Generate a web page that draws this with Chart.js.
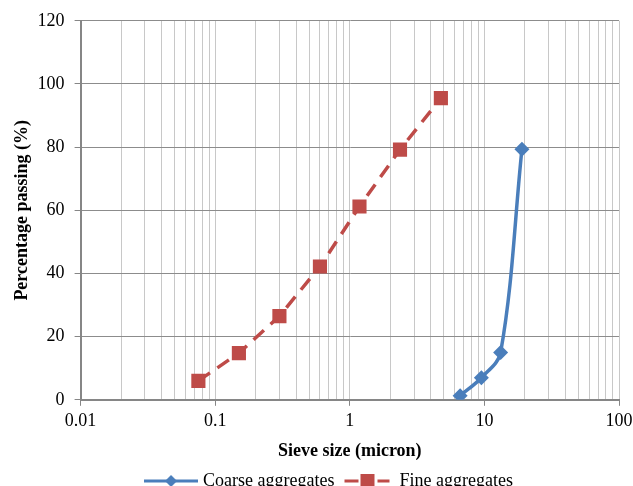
<!DOCTYPE html>
<html>
<head>
<meta charset="utf-8">
<script src="https://cdn.jsdelivr.net/npm/chart.js@4.4.1/dist/chart.umd.min.js"></script>
<style>
  html, body { margin: 0; padding: 0; background: #fff; overflow: hidden; }
  #wrap { width: 633px; height: 500px; position: relative; }
</style>
</head>
<body>
<div id="wrap"><canvas id="chart"></canvas></div>
<script>
// Sieve sizes and percentages
const coarseSize = [6.6, 9.5, 13.2, 19];
const coarsePassing = [1.3, 7, 15, 79.3];
const fineSize = [0.075, 0.15, 0.3, 0.6, 1.18, 2.36, 4.75];
const finePassing = [6, 14.8, 26.5, 42.2, 61.2, 79.2, 95.5];

// Axis ticks
const xMajorTicks = [0.01, 0.1, 1, 10, 100];
const xTickLabels = ['0.01', '0.1', '1', '10', '100'];
const yTicks = [0, 20, 40, 60, 80, 100, 120];

const seriesNames = ['Coarse aggregates', 'Fine aggregates'];
const blue = '#4A7EBB';
const red = '#BE4B48';
const serif = '"Liberation Serif", "Times New Roman", serif';

function toPoints(xs, ys) {
  return xs.map((x, i) => ({ x: x, y: ys[i] }));
}

// legend sample: short line with the marker in the middle
function legendSample(color, marker, dashed) {
  const c = document.createElement('canvas');
  c.width = 54;
  c.height = 16;
  const g = c.getContext('2d');
  g.strokeStyle = color;
  g.lineWidth = 3;
  g.beginPath();
  if (dashed) {
    g.moveTo(4, 8); g.lineTo(18, 8);
    g.moveTo(37, 8); g.lineTo(49, 8);
  } else {
    g.moveTo(0, 8); g.lineTo(54, 8);
  }
  g.stroke();
  g.fillStyle = color;
  g.beginPath();
  if (marker === 'diamond') {
    g.moveTo(27, 2); g.lineTo(33, 8); g.lineTo(27, 14); g.lineTo(21, 8);
  } else {
    g.rect(20, 1, 14, 14);
  }
  g.closePath();
  g.fill();
  return c;
}

// minor grid lines: 1..9 in every decade
const xGridValues = [];
xMajorTicks.forEach((m, i) => {
  if (i === xMajorTicks.length - 1) { xGridValues.push(m); return; }
  for (let k = 1; k <= 9; k++) xGridValues.push(+(m * k).toPrecision(3));
});

function isMajor(v) {
  return xMajorTicks.findIndex(m => Math.abs(m - v) / m < 1e-6);
}

// the legend sits a little right of the page centre in the original
const legendShift = {
  id: 'legendShift',
  afterLayout(chart) {
    chart.legend.left += 11;
    chart.legend.right += 11;
  }
};

const ctx = document.getElementById('chart').getContext('2d');
new Chart(ctx, {
  type: 'scatter',
  data: {
    datasets: [{
      label: seriesNames[0],
      data: toPoints(coarseSize, coarsePassing),
      showLine: true,
      borderColor: blue,
      backgroundColor: blue,
      borderWidth: 3.5,
      tension: 0.35,
      pointStyle: 'rectRot',
      pointRadius: 7.5,
      pointHoverRadius: 7.5,
      pointBorderWidth: 0
    }, {
      label: seriesNames[1],
      data: toPoints(fineSize, finePassing),
      showLine: true,
      borderColor: red,
      backgroundColor: red,
      borderWidth: 3.5,
      borderDash: [14, 9],
      tension: 0,
      pointStyle: 'rect',
      pointRadius: 10,
      pointHoverRadius: 10,
      pointBorderWidth: 0
    }]
  },
  plugins: [legendShift],
  options: {
    responsive: true,
    maintainAspectRatio: false,
    animation: false,
    layout: { padding: { top: 7, right: 0, left: 6, bottom: 0 } },
    plugins: {
      tooltip: { enabled: false },
      legend: {
        position: 'bottom',
        labels: {
          usePointStyle: true,
          pointStyleWidth: 46,
          padding: 10,
          color: '#000',
          font: { family: serif, size: 18 },
          generateLabels: function(chart) {
            return chart.data.datasets.map((ds, i) => ({
              text: ds.label,
              datasetIndex: i,
              pointStyle: legendSample(ds.borderColor, i === 0 ? 'diamond' : 'square', i === 1),
              fillStyle: ds.borderColor,
              strokeStyle: ds.borderColor,
              lineWidth: 0,
              fontColor: '#000'
            }));
          }
        }
      }
    },
    scales: {
      x: {
        type: 'logarithmic',
        min: xMajorTicks[0],
        max: xMajorTicks[xMajorTicks.length - 1],
        afterBuildTicks: function(scale) {
          scale.ticks = xGridValues.map(v => ({ value: v }));
        },
        afterFit: function(scale) {
          scale.paddingRight = 14;
        },
        ticks: {
          color: '#000',
          font: { family: serif, size: 18 },
          maxRotation: 0,
          autoSkip: false,
          padding: 5,
          callback: function(value) {
            const i = isMajor(value);
            return i >= 0 ? xTickLabels[i] : '';
          }
        },
        grid: {
          color: '#c8c8c8',
          lineWidth: 1,
          tickLength: 6,
          tickColor: function(c) {
            const v = c.tick ? c.tick.value : 0;
            return isMajor(v) >= 0 ? '#868686' : 'rgba(0,0,0,0)';
          }
        },
        border: { color: '#868686', width: 2 },
        title: {
          display: true,
          text: 'Sieve size (micron)',
          color: '#000',
          font: { family: serif, size: 18, weight: 'bold' },
          padding: { top: 3, bottom: 0 }
        }
      },
      y: {
        min: yTicks[0],
        max: yTicks[yTicks.length - 1],
        afterBuildTicks: function(scale) {
          scale.ticks = yTicks.map(v => ({ value: v }));
        },
        ticks: {
          color: '#000',
          font: { family: serif, size: 18 },
          padding: 10
        },
        grid: {
          color: '#8c8c8c',
          lineWidth: 1,
          tickLength: 6,
          tickColor: '#868686'
        },
        border: { color: '#868686', width: 2 },
        title: {
          display: true,
          text: 'Percentage passing (%)',
          color: '#000',
          font: { family: serif, size: 18, weight: 'bold' },
          padding: { top: 6, bottom: -6 }
        }
      }
    }
  }
});
</script>
</body>
</html>
